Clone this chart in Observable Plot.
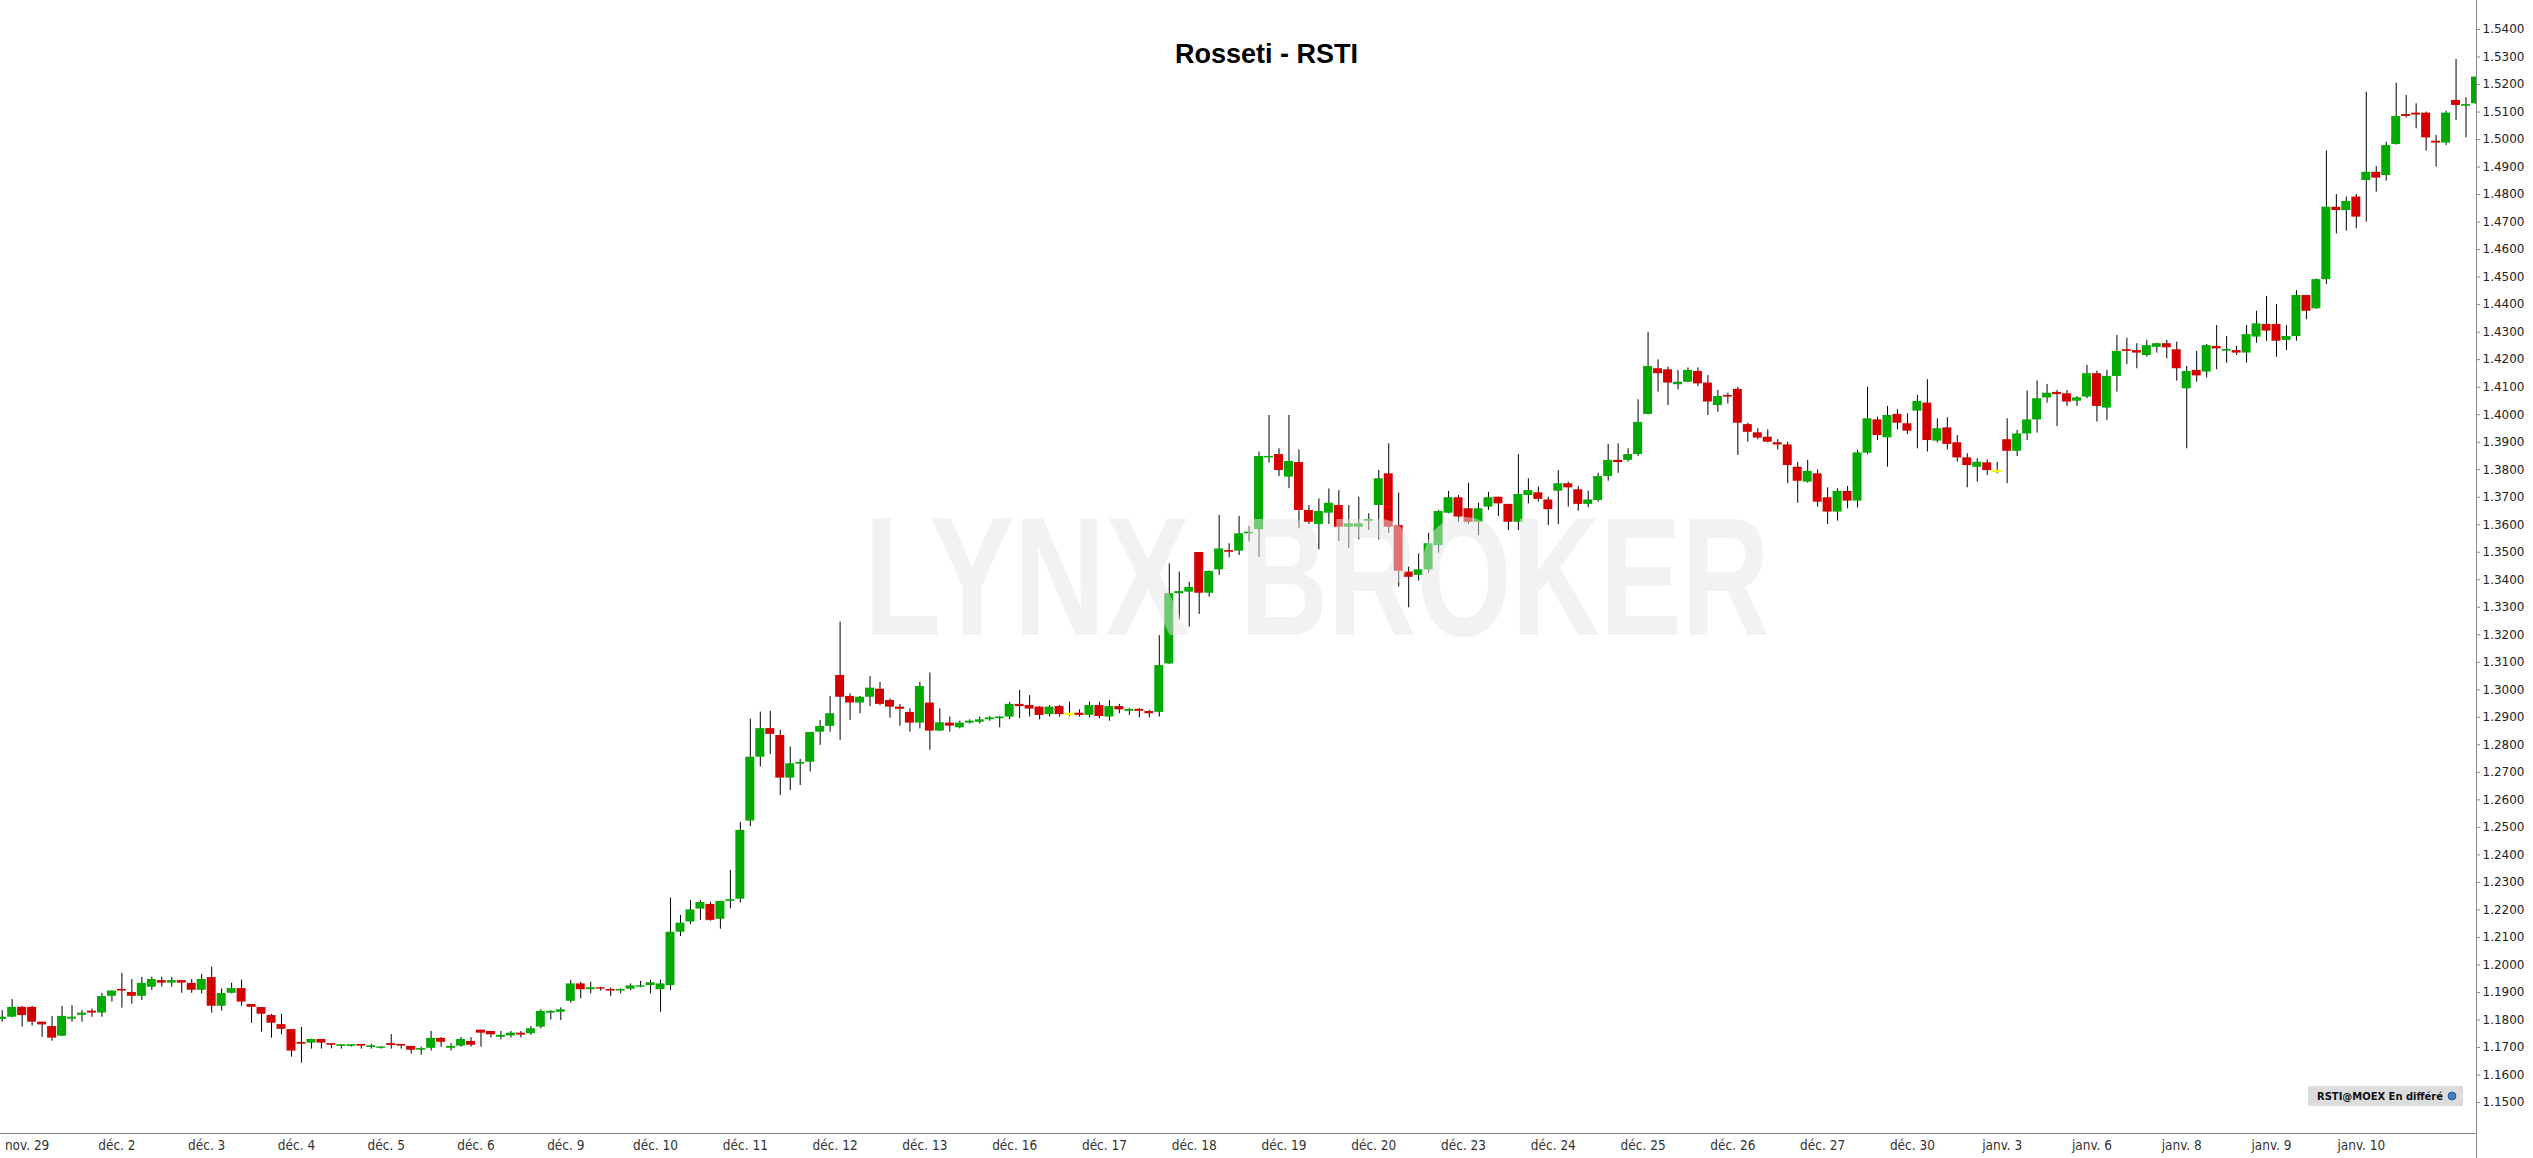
<!DOCTYPE html>
<html><head><meta charset="utf-8">
<script src="https://cdn.jsdelivr.net/npm/d3@7"></script>
<script src="https://cdn.jsdelivr.net/npm/@observablehq/plot@0.6"></script>
<style>
html,body{margin:0;padding:0;background:#fff;}
#chart{position:relative;width:2533px;height:1158px;overflow:hidden;}
</style></head><body><div id="chart"></div>
<script>
const title = "Rosseti - RSTI";
const watermarkWords = ["LYNX", "BROKER"];
const sourceLabel = "RSTI@MOEX En différé";
const dayLabels = ["nov. 29","déc. 2","déc. 3","déc. 4","déc. 5","déc. 6","déc. 9","déc. 10","déc. 11","déc. 12","déc. 13","déc. 16","déc. 17","déc. 18","déc. 19","déc. 20","déc. 23","déc. 24","déc. 25","déc. 26","déc. 27","déc. 30","janv. 3","janv. 6","janv. 8","janv. 9","janv. 10"];
const candlesPerDay = 9;

const opens = [
1.1802,1.1810,1.1846,1.1846,1.1792,1.1776,1.1741,1.1803,1.1817,1.1832,
1.1825,1.1886,1.1911,1.1900,1.1886,1.1919,1.1943,1.1934,1.1943,1.1933,
1.1908,1.1954,1.1850,1.1897,1.1914,1.1856,1.1845,1.1816,1.1783,1.1765,
1.1718,1.1716,1.1729,1.1714,1.1704,1.1704,1.1711,1.1700,1.1697,1.1714,
1.1711,1.1704,1.1690,1.1697,1.1733,1.1697,1.1705,1.1722,1.1763,1.1758,
1.1737,1.1742,1.1752,1.1750,1.1774,1.1825,1.1828,1.1868,1.1931,1.1910,
1.1917,1.1911,1.1905,1.1912,1.1919,1.1925,1.1910,1.1925,1.2119,1.2156,
1.2203,1.2220,1.2166,1.2231,1.2239,1.2523,1.2755,1.2859,1.2834,1.2679,
1.2730,1.2737,1.2846,1.2867,1.3052,1.2976,1.2952,1.2973,1.3002,1.2961,
1.2937,1.2918,1.2879,1.2952,1.2850,1.2879,1.2862,1.2879,1.2882,1.2891,
1.2895,1.2901,1.2947,1.2943,1.2937,1.2910,1.2939,1.2912,1.2915,1.2907,
1.2943,1.2901,1.2939,1.2922,1.2929,1.2921,1.2918,1.3094,1.3349,1.3355,
1.3499,1.3351,1.3436,1.3506,1.3504,1.3567,1.3582,1.3843,1.3855,1.3773,
1.3826,1.3652,1.3601,1.3642,1.3670,1.3591,1.3591,1.3613,1.3670,1.3785,
1.3597,1.3428,1.3416,1.3436,1.3524,1.3642,1.3698,1.3658,1.3609,1.3664,
1.3700,1.3674,1.3609,1.3706,1.3716,1.3690,1.3722,1.3749,1.3727,1.3674,
1.3688,1.3775,1.3834,1.3834,1.3855,1.4001,1.4167,1.4163,1.4109,1.4118,
1.4157,1.4115,1.4033,1.4070,1.4092,1.3964,1.3934,1.3918,1.3898,1.3890,
1.3809,1.3755,1.3785,1.3698,1.3646,1.3721,1.3686,1.3860,1.3981,1.3916,
1.4001,1.3967,1.4013,1.4042,1.3904,1.3952,1.3898,1.3843,1.3809,1.3825,
1.3795,1.3909,1.3867,1.3930,1.3981,1.4061,1.4081,1.4076,1.4049,1.4064,
1.4149,1.4024,1.4139,1.4236,1.4233,1.4215,1.4245,1.4258,1.4236,1.4094,
1.4161,1.4155,1.4248,1.4231,1.4233,1.4224,1.4282,1.4328,1.4328,1.4270,
1.4284,1.4433,1.4385,1.4491,1.4754,1.4742,1.4791,1.4851,1.4881,1.4869,
1.4982,1.5091,1.5096,1.5096,1.4994,1.4987,1.5142,1.5121,1.5130];

const highs = [
1.1834,1.1874,1.1849,1.1849,1.1792,1.1813,1.1849,1.1852,1.1834,1.1840,
1.1897,1.1905,1.1970,1.1947,1.1955,1.1955,1.1955,1.1955,1.1943,1.1947,
1.1966,1.1992,1.1913,1.1934,1.1945,1.1856,1.1845,1.1820,1.1820,1.1765,
1.1773,1.1730,1.1729,1.1714,1.1710,1.1710,1.1711,1.1711,1.1702,1.1747,
1.1711,1.1704,1.1701,1.1758,1.1736,1.1714,1.1736,1.1736,1.1763,1.1758,
1.1758,1.1758,1.1758,1.1776,1.1837,1.1834,1.1844,1.1944,1.1937,1.1937,
1.1919,1.1916,1.1913,1.1931,1.1940,1.1944,1.1944,1.2243,1.2180,1.2234,
1.2234,1.2228,1.2231,1.2343,1.2518,1.2893,1.2919,1.2922,1.2852,1.2792,
1.2747,1.2845,1.2888,1.2976,1.3246,1.2985,1.2976,1.3048,1.3027,1.2967,
1.2947,1.2931,1.3028,1.3061,1.2931,1.2901,1.2886,1.2891,1.2901,1.2903,
1.2903,1.2955,1.2998,1.2979,1.2939,1.2943,1.2943,1.2955,1.2927,1.2955,
1.2955,1.2961,1.2947,1.2931,1.2931,1.2925,1.3197,1.3458,1.3428,1.3391,
1.3499,1.3432,1.3634,1.3531,1.3630,1.3594,1.3864,1.3997,1.3876,1.3997,
1.3872,1.3670,1.3694,1.3730,1.3724,1.3670,1.3700,1.3640,1.3797,1.3894,
1.3715,1.3446,1.3494,1.3569,1.3652,1.3721,1.3706,1.3751,1.3678,1.3718,
1.3700,1.3674,1.3855,1.3767,1.3737,1.3700,1.3797,1.3755,1.3739,1.3722,
1.3787,1.3892,1.3894,1.3876,1.4054,1.4299,1.4199,1.4173,1.4161,1.4170,
1.4170,1.4142,1.4088,1.4078,1.4100,1.3969,1.3949,1.3945,1.3909,1.3900,
1.3827,1.3834,1.3800,1.3734,1.3731,1.3739,1.3870,1.4100,1.3991,1.4030,
1.4018,1.4003,1.4070,1.4127,1.3985,1.3989,1.3924,1.3858,1.3840,1.3836,
1.3827,1.3985,1.3943,1.4086,1.4122,1.4110,1.4088,1.4088,1.4066,1.4179,
1.4158,1.4161,1.4288,1.4278,1.4258,1.4270,1.4260,1.4270,1.4264,1.4175,
1.4230,1.4255,1.4324,1.4284,1.4248,1.4324,1.4376,1.4430,1.4400,1.4324,
1.4451,1.4433,1.4493,1.4958,1.4800,1.4791,1.4800,1.5172,1.4902,1.4990,
1.5205,1.5160,1.5130,1.5100,1.5015,1.5103,1.5291,1.5152,1.5227];

const lows = [
1.1792,1.1808,1.1774,1.1778,1.1737,1.1723,1.1739,1.1792,1.1792,1.1810,
1.1810,1.1865,1.1843,1.1857,1.1871,1.1907,1.1919,1.1919,1.1897,1.1897,
1.1894,1.1825,1.1832,1.1895,1.1850,1.1788,1.1756,1.1734,1.1746,1.1665,
1.1643,1.1694,1.1694,1.1695,1.1694,1.1701,1.1694,1.1694,1.1694,1.1694,
1.1694,1.1676,1.1672,1.1687,1.1701,1.1687,1.1701,1.1701,1.1701,1.1734,
1.1728,1.1735,1.1735,1.1744,1.1768,1.1800,1.1798,1.1861,1.1877,1.1895,
1.1905,1.1885,1.1895,1.1907,1.1917,1.1895,1.1828,1.1907,1.2103,1.2147,
1.2162,1.2159,1.2130,1.2204,1.2225,1.2503,1.2719,1.2765,1.2616,1.2634,
1.2652,1.2701,1.2798,1.2846,1.2816,1.2889,1.2913,1.2939,1.2943,1.2897,
1.2867,1.2846,1.2858,1.2780,1.2848,1.2846,1.2858,1.2876,1.2876,1.2886,
1.2862,1.2891,1.2895,1.2901,1.2891,1.2901,1.2901,1.2903,1.2901,1.2898,
1.2895,1.2886,1.2913,1.2907,1.2898,1.2898,1.2901,1.3092,1.3254,1.3228,
1.3274,1.3337,1.3416,1.3480,1.3488,1.3537,1.3482,1.3824,1.3775,1.3731,
1.3585,1.3601,1.3509,1.3601,1.3540,1.3513,1.3545,1.3579,1.3545,1.3569,
1.3373,1.3298,1.3395,1.3424,1.3497,1.3640,1.3609,1.3601,1.3561,1.3652,
1.3630,1.3579,1.3579,1.3676,1.3682,1.3597,1.3601,1.3664,1.3649,1.3662,
1.3682,1.3758,1.3787,1.3828,1.3848,1.3999,1.4082,1.4033,1.4090,1.4115,
1.4102,1.3997,1.4009,1.4039,1.3852,1.3900,1.3909,1.3898,1.3872,1.3749,
1.3678,1.3751,1.3664,1.3601,1.3613,1.3658,1.3661,1.3855,1.3906,1.3809,
1.3945,1.3928,1.3876,1.3864,1.3897,1.3872,1.3828,1.3734,1.3755,1.3779,
1.3785,1.3749,1.3848,1.3906,1.3933,1.4042,1.3957,1.4030,1.4030,1.4058,
1.3973,1.3979,1.4082,1.4182,1.4167,1.4209,1.4224,1.4203,1.4122,1.3876,
1.4118,1.4134,1.4163,1.4187,1.4215,1.4187,1.4260,1.4267,1.4209,1.4233,
1.4267,1.4345,1.4383,1.4473,1.4657,1.4667,1.4676,1.4700,1.4809,1.4849,
1.4980,1.5079,1.5039,1.4958,1.4900,1.4978,1.5069,1.5006,1.5127];

const closes = [
1.1810,1.1846,1.1816,1.1792,1.1782,1.1734,1.1813,1.1810,1.1825,1.1825,
1.1885,1.1905,1.1905,1.1886,1.1933,1.1947,1.1934,1.1943,1.1934,1.1908,
1.1947,1.1850,1.1896,1.1914,1.1865,1.1846,1.1821,1.1788,1.1766,1.1687,
1.1712,1.1729,1.1716,1.1708,1.1710,1.1710,1.1705,1.1706,1.1702,1.1707,
1.1705,1.1690,1.1696,1.1733,1.1719,1.1704,1.1729,1.1708,1.1752,1.1746,
1.1744,1.1752,1.1745,1.1768,1.1831,1.1831,1.1837,1.1931,1.1910,1.1917,
1.1912,1.1905,1.1911,1.1924,1.1924,1.1935,1.1931,1.2119,1.2152,1.2200,
1.2227,1.2162,1.2231,1.2237,1.2489,1.2755,1.2859,1.2838,1.2679,1.2731,
1.2736,1.2845,1.2867,1.2913,1.2973,1.2952,1.2973,1.3006,1.2947,1.2937,
1.2929,1.2879,1.3012,1.2850,1.2880,1.2868,1.2879,1.2886,1.2891,1.2898,
1.2901,1.2947,1.2939,1.2930,1.2907,1.2937,1.2910,1.2912,1.2907,1.2943,
1.2903,1.2939,1.2927,1.2929,1.2922,1.2913,1.3088,1.3349,1.3357,1.3372,
1.3351,1.3430,1.3512,1.3500,1.3567,1.3573,1.3848,1.3848,1.3797,1.3830,
1.3652,1.3609,1.3648,1.3678,1.3591,1.3603,1.3603,1.3619,1.3767,1.3591,
1.3431,1.3409,1.3436,1.3531,1.3648,1.3698,1.3628,1.3609,1.3658,1.3698,
1.3676,1.3609,1.3710,1.3724,1.3692,1.3655,1.3749,1.3734,1.3674,1.3690,
1.3775,1.3834,1.3826,1.3855,1.3972,1.4175,1.4149,1.4115,1.4118,1.4161,
1.4112,1.4046,1.4066,1.4064,1.3969,1.3936,1.3915,1.3900,1.3890,1.3815,
1.3758,1.3794,1.3682,1.3646,1.3721,1.3686,1.3861,1.3985,1.3924,1.3997,
1.3969,1.3940,1.4048,1.3906,1.3949,1.3892,1.3843,1.3815,1.3827,1.3797,
1.3795,1.3867,1.3930,1.3981,1.4058,1.4078,1.4073,1.4046,1.4061,1.4149,
1.4030,1.4139,1.4230,1.4230,1.4224,1.4251,1.4258,1.4243,1.4167,1.4157,
1.4141,1.4251,1.4239,1.4237,1.4224,1.4291,1.4330,1.4304,1.4267,1.4284,
1.4433,1.4376,1.4491,1.4754,1.4742,1.4775,1.4718,1.4881,1.4860,1.4978,
1.5084,1.5084,1.5089,1.5006,1.4987,1.5096,1.5124,1.5127,1.5227];

const yTicks = d3.range(115, 155).map(d => d / 100);

const upColor = "#00aa00", downColor = "#d40000", flatColor = "#ffff00";
const candles = opens.map((o, i) => ({i, open: o, high: highs[i], low: lows[i], close: closes[i]}));
const bodies = candles.filter(d => d.open !== d.close);
const dojis = candles.filter(d => d.open === d.close);
const half = 0.45;
const dayTicks = dayLabels.map((_, k) => 2.5 + candlesPerDay * k);
const labelAt = new Map(dayTicks.map((t, k) => [t, dayLabels[k]]));

const chart = Plot.plot({
  width: 2533, height: 1158,
  marginLeft: 0, marginRight: 57, marginTop: 0, marginBottom: 24,
  style: {fontFamily: "DejaVu Sans, Verdana, sans-serif", background: "#fff", color: "#222"},
  x: {type: "linear", domain: [-0.1704, 248.05], label: null},
  y: {type: "linear", domain: [1.13837, 1.55054], label: null},
  marks: [
    Plot.ruleX(candles, {x: "i", y1: "low", y2: "high", stroke: "#000", strokeWidth: 1, clip: true}),
    Plot.rect(bodies, {x1: d => d.i - half, x2: d => d.i + half, y1: "open", y2: "close",
      fill: d => d.close > d.open ? upColor : downColor, clip: true}),
    Plot.ruleY(dojis, {y: "open", x1: d => d.i - half, x2: d => d.i + half, stroke: flatColor, strokeWidth: 2.5, clip: true}),
    Plot.axisY({ticks: yTicks, anchor: "right", tickSize: 3, tickPadding: 3, tickFormat: d3.format(".4f"),
      fontSize: 12, stroke: "#888", fill: "#222", label: null}),
    Plot.axisX({ticks: dayTicks, anchor: "bottom", tickSize: 0, tickPadding: 6, tickFormat: t => labelAt.get(t),
      fontSize: 13.5, fontFamily: "DejaVu Sans Condensed, DejaVu Sans, sans-serif", fill: "#333", label: null})
  ]
});

document.getElementById("chart").append(chart);
const svg = d3.select(chart);
// axis lines
svg.append("line").attr("x1", 0).attr("x2", 2476).attr("y1", 1133.5).attr("y2", 1133.5)
  .attr("stroke", "#8a8a8a").attr("stroke-width", 1);
svg.append("line").attr("x1", 2476.5).attr("x2", 2476.5).attr("y1", 0).attr("y2", 1158)
  .attr("stroke", "#8a8a8a").attr("stroke-width", 1);
// watermark over the candles: each word sized to its width, then stretched vertically
const wmBaseline = 635, wmFullSize = 168;
const wmLayout = [{x: 864, len: 326}, {x: 1240, len: 530}];
watermarkWords.forEach((word, k) => {
  const t = svg.append("text").text(word)
    .attr("x", wmLayout[k].x).attr("y", wmBaseline).attr("text-anchor", "start")
    .attr("font-family", "Liberation Sans, Arial, sans-serif")
    .attr("font-weight", "bold").attr("font-size", wmFullSize)
    .attr("fill", "rgb(229,229,229)").attr("fill-opacity", 0.5);
  const natural = t.node().getComputedTextLength();
  const fs = wmFullSize * wmLayout[k].len / natural;
  t.attr("font-size", fs)
   .attr("transform", `translate(0,${wmBaseline}) scale(1,${wmFullSize / fs}) translate(0,${-wmBaseline})`);
});
// title
svg.append("text").text(title)
  .attr("x", 1266.5).attr("y", 63).attr("text-anchor", "middle")
  .attr("font-family", "Liberation Sans, Arial, sans-serif").attr("font-weight", "bold")
  .attr("font-size", 27).attr("fill", "#000");
// source badge
const badge = svg.append("g");
badge.append("rect").attr("x", 2308).attr("y", 1086).attr("width", 155).attr("height", 20).attr("fill", "#dcdcdc");
badge.append("text").text(sourceLabel).attr("x", 2317).attr("y", 1100).attr("text-anchor", "start")
  .attr("font-family", "DejaVu Sans, Verdana, sans-serif").attr("font-weight", "bold")
  .attr("font-size", 10.5).attr("textLength", 126).attr("lengthAdjust", "spacingAndGlyphs").attr("fill", "#111");
badge.append("circle").attr("cx", 2452).attr("cy", 1096).attr("r", 4).attr("fill", "#3f7fbf").attr("stroke", "#1d4f80").attr("stroke-width", 0.8);
</script>
</body></html>
